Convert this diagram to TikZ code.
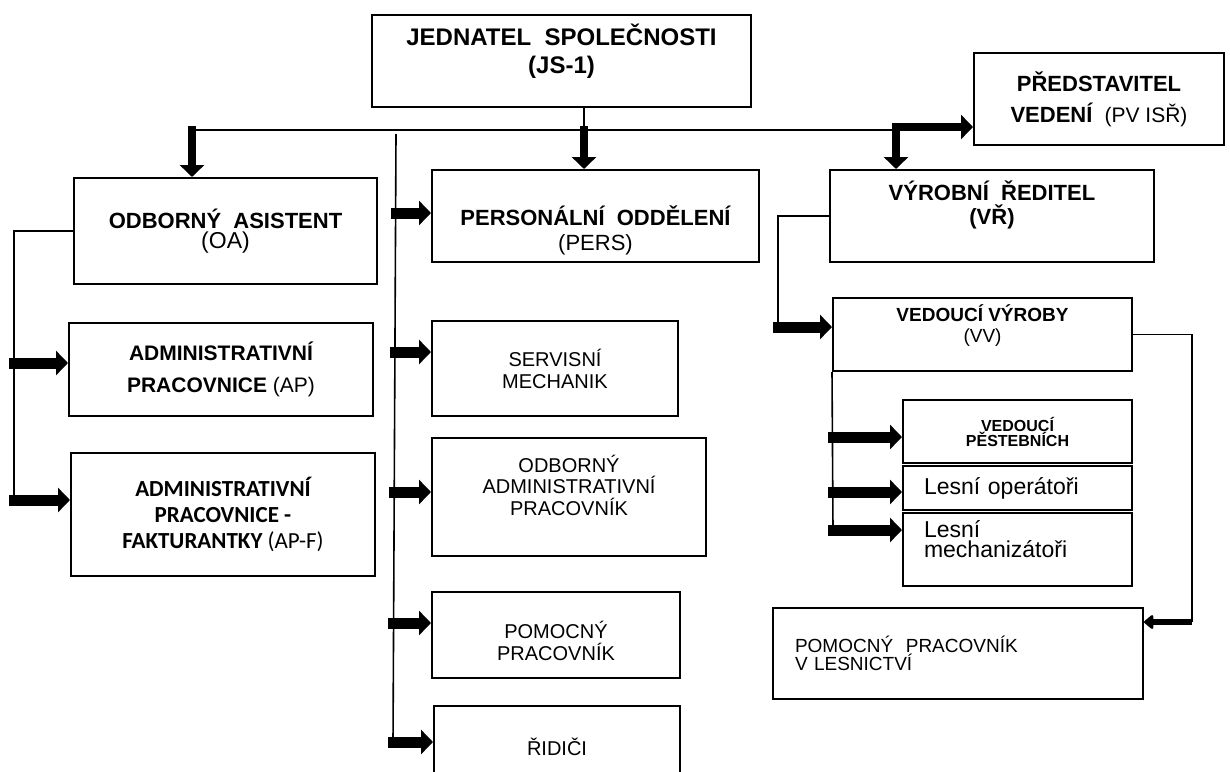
\documentclass[tikz,border=0pt]{standalone}
\usepackage{fontspec}
\setmainfont{Liberation Sans}
\newfontfamily\carlito{Carlito}
\usetikzlibrary{arrows.meta}
% invisible struts to nudge text inside a box
\newcommand\padbelow[1]{\rule[-#1]{0pt}{#1}}
\newcommand\padabove[1]{\rule{0pt}{#1}}

\begin{document}
\begin{tikzpicture}[x=0.5pt,y=-0.5pt,
  box/.style={rectangle,draw,line width=1pt,align=center,inner sep=2pt},
  fat/.style={-{Triangle[length=6pt,width=12pt]},line width=5.5pt,line cap=rect},
  drop/.style={-{Triangle[length=6pt,width=12pt]},line width=4pt,line cap=rect},
  slim/.style={-{Triangle[length=5pt,width=8pt,round]},line width=3pt},
  wire/.style={line width=0.8pt}]
  \useasboundingbox (0,0) rectangle (1230,771);
  \clip (0,0) rectangle (1230,771);

  % top
  \node[box,minimum width=189.5pt,minimum height=46pt,font=\bfseries\fontsize{12}{14}\selectfont] (js) at (561.5,61) {JEDNATEL\ \ SPOLEČNOSTI\\(JS-1)\padbelow{12.5pt}};
  \node[box,minimum width=125pt,minimum height=46pt,font=\bfseries\fontsize{11}{15.5}\selectfont] (pv) at (1099,99) {PŘEDSTAVITEL\\VEDENÍ\ \ {\mdseries\fontsize{10.5}{15.5}\selectfont(PV ISŘ)}};

  % second row
  \node[box,minimum width=151.5pt,minimum height=53pt,font=\bfseries\fontsize{11}{10}\selectfont] (oa) at (225.5,231) {ODBORNÝ\ \ ASISTENT\\{\mdseries\fontsize{11.5}{10}\selectfont(OA)}};
  \node[box,minimum width=163.5pt,minimum height=46pt,font=\bfseries\fontsize{11}{12.5}\selectfont] (pers) at (595.5,216) {\padabove{24pt}PERSONÁLNÍ\ \ ODDĚLENÍ\\{\mdseries(PERS)}};
  \node[box,minimum width=162pt,minimum height=46pt,font=\bfseries\fontsize{11}{12}\selectfont] (vr) at (992,216) {VÝROBNÍ\ \ ŘEDITEL\\(VŘ)\padbelow{13.5pt}};

  % left column
  \node[box,minimum width=152pt,minimum height=46.5pt,font=\bfseries\fontsize{10.5}{16}\selectfont] (ap) at (221,369.5) {ADMINISTRATIVNÍ\\PRACOVNICE {\mdseries(AP)}};
  \node[box,minimum width=152pt,minimum height=61.5pt,font=\carlito\bfseries\fontsize{11.5}{13}\selectfont] (apf) at (223,514.5) {ADMINISTRATIVNÍ\\PRACOVNICE -\\FAKTURANTKY {\mdseries(AP-F)}};

  % middle column
  \node[box,minimum width=123pt,minimum height=47.5pt,font=\fontsize{10}{11}\selectfont] (sm) at (555,368.5) {SERVISNÍ\\MECHANIK};
  \node[box,minimum width=137pt,minimum height=59pt,font=\fontsize{10}{10.75}\selectfont] (oap) at (569,497) {ODBORNÝ\\ADMINISTRATIVNÍ\\PRACOVNÍK\padbelow{12pt}};
  \node[box,minimum width=124pt,minimum height=43pt,font=\fontsize{10}{11}\selectfont] (pp) at (556,635) {\padabove{15pt}POMOCNÝ\\PRACOVNÍK};
  \node[box,minimum width=123pt,minimum height=41pt,font=\fontsize{10}{11}\selectfont] (rid) at (557,747) {ŘIDIČI};

  % right column
  \node[box,minimum width=149.5pt,minimum height=36.5pt,font=\bfseries\fontsize{9.5}{10.5}\selectfont] (vv) at (982.5,334.5) {VEDOUCÍ VÝROBY\\{\mdseries(VV)}\padbelow{10.5pt}};
  \node[box,minimum width=114.5pt,minimum height=31.5pt,font=\bfseries\fontsize{8}{7.5}\selectfont] (vp) at (1017.5,431.5) {VEDOUCÍ\\PĚSTEBNÍCH};
  \node[box,minimum width=114.5pt,minimum height=22pt,inner xsep=10.5pt,text width=93.5pt,align=left,font=\fontsize{11.5}{10}\selectfont] (lo) at (1017.5,488) {Lesní operátoři};
  \node[box,minimum width=114.5pt,minimum height=36.5pt,inner xsep=10.5pt,text width=93.5pt,align=left,font=\fontsize{11.5}{10}\selectfont] (lm) at (1017.5,549.5) {Lesní\\mechanizátoři\padbelow{10pt}};
  \node[box,minimum width=185pt,minimum height=45.5pt,inner xsep=11pt,text width=163pt,align=left,font=\fontsize{9.5}{7.5}\selectfont] (pvl) at (958,653.5) {POMOCNÝ\ \ PRACOVNÍK\\V LESNICTVÍ};

  % wire points
  \coordinate (jsfoot) at (584,130);
  \coordinate (busw) at (192,130);
  \coordinate (corner) at (896,127);
  \coordinate (mtop) at (396,134);
  \coordinate (mpers) at (396,213);
  \coordinate (msm) at (395,352);
  \coordinate (moap) at (394,492);
  \coordinate (mpp) at (393,623);
  \coordinate (mrid) at (393,742);
  \coordinate (oaap) at (14,363);
  \coordinate (oaapf) at (14,500);
  \coordinate (vrdrop) at (778,327);
  \coordinate (vvvp) at (833,437);
  \coordinate (vvlo) at (833,492);
  \coordinate (vvfoot) at (833,530);
  \coordinate (vvdrop) at (1192,622);

  % connectors
  \draw[wire] (js.south -| jsfoot) -- (jsfoot);
  \draw[wire] (busw) -- (busw -| corner);
  \draw[drop] (busw) -- (busw |- oa.north);
  \draw[drop] (jsfoot) -- (jsfoot |- pers.north);
  \draw[drop] (corner) -- (corner -| pv.west);
  \draw[drop] (corner) -- (corner |- vr.north);

  \draw[wire] (mtop) -- (mrid);
  \draw[fat] (mpers) -- (mpers -| pers.west);
  \draw[fat] (msm) -- (msm -| sm.west);
  \draw[fat] (moap) -- (moap -| oap.west);
  \draw[fat] (mpp) -- (mpp -| pp.west);
  \draw[fat] (mrid) -- (mrid -| rid.west);

  \draw[wire] (oa.west) -| (oaapf);
  \draw[fat] (oaap) -- (oaap -| ap.west);
  \draw[fat] (oaapf) -- (oaapf -| apf.west);

  \draw[wire] (vr.west) -| (vrdrop);
  \draw[fat] (vrdrop) -- (vrdrop -| vv.west);
  \draw[wire] (vv.south west) -- (vvfoot);
  \draw[fat] (vvvp) -- (vvvp -| vp.west);
  \draw[fat] (vvlo) -- (vvlo -| lo.west);
  \draw[fat] (vvfoot) -- (vvfoot -| lm.west);
  \draw[wire] (vv.east) -| (vvdrop);
  \draw[slim] (vvdrop) -- (vvdrop -| pvl.east);
\end{tikzpicture}
\end{document}
